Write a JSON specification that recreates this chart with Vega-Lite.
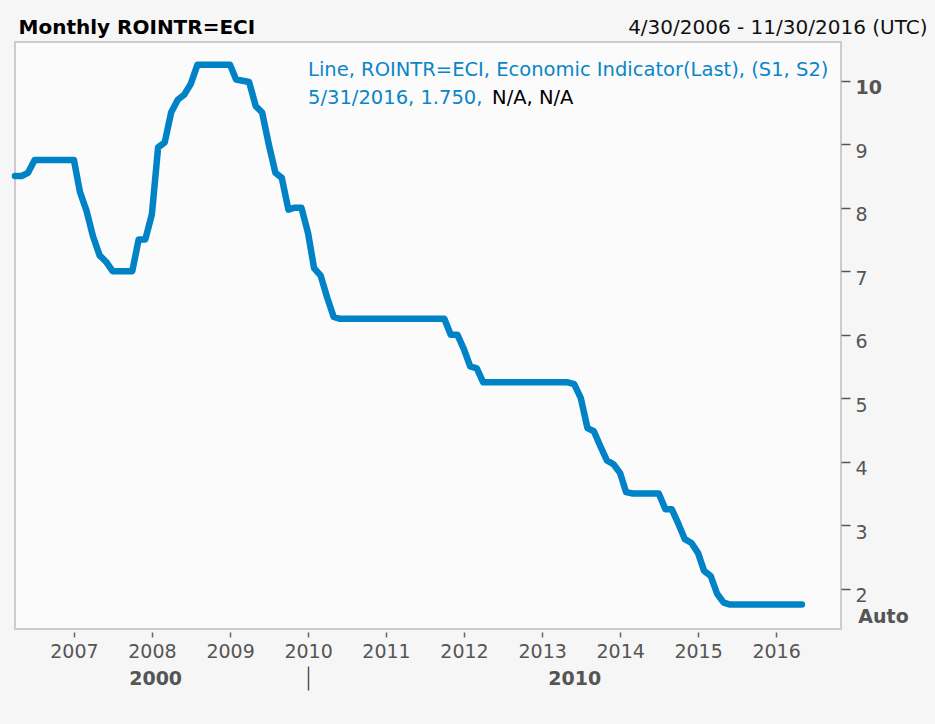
{
  "$schema": "https://vega.github.io/schema/vega-lite/v6.json",
  "width": 826,
  "height": 587,
  "autosize": {"type": "none"},
  "padding": {"left": 15, "top": 42, "right": 94, "bottom": 95},
  "background": "#f6f6f6",
  "config": {
    "font": "DejaVu Sans",
    "view": {"fill": "#fbfbfb", "stroke": "#cccccc", "strokeWidth": 2}
  },
  "datasets": {
    "series": [
      {"date": "2006-04-30", "rate": 8.50}, {"date": "2006-05-31", "rate": 8.50}, {"date": "2006-06-30", "rate": 8.55},
      {"date": "2006-07-31", "rate": 8.75}, {"date": "2006-08-31", "rate": 8.75}, {"date": "2006-09-30", "rate": 8.75},
      {"date": "2006-10-31", "rate": 8.75}, {"date": "2006-11-30", "rate": 8.75}, {"date": "2006-12-31", "rate": 8.75},
      {"date": "2007-01-31", "rate": 8.75}, {"date": "2007-02-28", "rate": 8.25}, {"date": "2007-03-31", "rate": 7.95},
      {"date": "2007-04-30", "rate": 7.55}, {"date": "2007-05-31", "rate": 7.25}, {"date": "2007-06-30", "rate": 7.15},
      {"date": "2007-07-31", "rate": 7.00}, {"date": "2007-08-31", "rate": 7.00}, {"date": "2007-09-30", "rate": 7.00},
      {"date": "2007-10-31", "rate": 7.00}, {"date": "2007-11-30", "rate": 7.50}, {"date": "2007-12-31", "rate": 7.50},
      {"date": "2008-01-31", "rate": 7.90}, {"date": "2008-02-29", "rate": 8.95}, {"date": "2008-03-31", "rate": 9.03},
      {"date": "2008-04-30", "rate": 9.50}, {"date": "2008-05-31", "rate": 9.70}, {"date": "2008-06-30", "rate": 9.78},
      {"date": "2008-07-31", "rate": 9.95}, {"date": "2008-08-31", "rate": 10.25}, {"date": "2008-09-30", "rate": 10.25},
      {"date": "2008-10-31", "rate": 10.25}, {"date": "2008-11-30", "rate": 10.25}, {"date": "2008-12-31", "rate": 10.25},
      {"date": "2009-01-31", "rate": 10.25}, {"date": "2009-02-28", "rate": 10.02}, {"date": "2009-03-31", "rate": 10.00},
      {"date": "2009-04-30", "rate": 9.98}, {"date": "2009-05-31", "rate": 9.60}, {"date": "2009-06-30", "rate": 9.50},
      {"date": "2009-07-31", "rate": 9.00}, {"date": "2009-08-31", "rate": 8.55}, {"date": "2009-09-30", "rate": 8.47},
      {"date": "2009-10-31", "rate": 7.97}, {"date": "2009-11-30", "rate": 8.00}, {"date": "2009-12-31", "rate": 8.00},
      {"date": "2010-01-31", "rate": 7.60}, {"date": "2010-02-28", "rate": 7.05}, {"date": "2010-03-31", "rate": 6.93},
      {"date": "2010-04-30", "rate": 6.59}, {"date": "2010-05-31", "rate": 6.28}, {"date": "2010-06-30", "rate": 6.25},
      {"date": "2010-07-31", "rate": 6.25}, {"date": "2010-08-31", "rate": 6.25}, {"date": "2010-09-30", "rate": 6.25},
      {"date": "2010-10-31", "rate": 6.25}, {"date": "2010-11-30", "rate": 6.25}, {"date": "2010-12-31", "rate": 6.25},
      {"date": "2011-01-31", "rate": 6.25}, {"date": "2011-02-28", "rate": 6.25}, {"date": "2011-03-31", "rate": 6.25},
      {"date": "2011-04-30", "rate": 6.25}, {"date": "2011-05-31", "rate": 6.25}, {"date": "2011-06-30", "rate": 6.25},
      {"date": "2011-07-31", "rate": 6.25}, {"date": "2011-08-31", "rate": 6.25}, {"date": "2011-09-30", "rate": 6.25},
      {"date": "2011-10-31", "rate": 6.25}, {"date": "2011-11-30", "rate": 6.00}, {"date": "2011-12-31", "rate": 6.00},
      {"date": "2012-01-31", "rate": 5.77}, {"date": "2012-02-29", "rate": 5.50}, {"date": "2012-03-31", "rate": 5.47},
      {"date": "2012-04-30", "rate": 5.25}, {"date": "2012-05-31", "rate": 5.25}, {"date": "2012-06-30", "rate": 5.25},
      {"date": "2012-07-31", "rate": 5.25}, {"date": "2012-08-31", "rate": 5.25}, {"date": "2012-09-30", "rate": 5.25},
      {"date": "2012-10-31", "rate": 5.25}, {"date": "2012-11-30", "rate": 5.25}, {"date": "2012-12-31", "rate": 5.25},
      {"date": "2013-01-31", "rate": 5.25}, {"date": "2013-02-28", "rate": 5.25}, {"date": "2013-03-31", "rate": 5.25},
      {"date": "2013-04-30", "rate": 5.25}, {"date": "2013-05-31", "rate": 5.25}, {"date": "2013-06-30", "rate": 5.22},
      {"date": "2013-07-31", "rate": 5.00}, {"date": "2013-08-31", "rate": 4.53}, {"date": "2013-09-30", "rate": 4.48},
      {"date": "2013-10-31", "rate": 4.24}, {"date": "2013-11-30", "rate": 4.02}, {"date": "2013-12-31", "rate": 3.96},
      {"date": "2014-01-31", "rate": 3.82}, {"date": "2014-02-28", "rate": 3.52}, {"date": "2014-03-31", "rate": 3.50},
      {"date": "2014-04-30", "rate": 3.50}, {"date": "2014-05-31", "rate": 3.50}, {"date": "2014-06-30", "rate": 3.50},
      {"date": "2014-07-31", "rate": 3.50}, {"date": "2014-08-31", "rate": 3.25}, {"date": "2014-09-30", "rate": 3.25},
      {"date": "2014-10-31", "rate": 3.02}, {"date": "2014-11-30", "rate": 2.78}, {"date": "2014-12-31", "rate": 2.72},
      {"date": "2015-01-31", "rate": 2.56}, {"date": "2015-02-28", "rate": 2.28}, {"date": "2015-03-31", "rate": 2.20},
      {"date": "2015-04-30", "rate": 1.92}, {"date": "2015-05-31", "rate": 1.78}, {"date": "2015-06-30", "rate": 1.75},
      {"date": "2015-07-31", "rate": 1.75}, {"date": "2015-08-31", "rate": 1.75}, {"date": "2015-09-30", "rate": 1.75},
      {"date": "2015-10-31", "rate": 1.75}, {"date": "2015-11-30", "rate": 1.75}, {"date": "2015-12-31", "rate": 1.75},
      {"date": "2016-01-31", "rate": 1.75}, {"date": "2016-02-29", "rate": 1.75}, {"date": "2016-03-31", "rate": 1.75},
      {"date": "2016-04-30", "rate": 1.75}, {"date": "2016-05-31", "rate": 1.75}
    ],
    "legendText": [
      {"part": "head", "label": "Line, ROINTR=ECI, Economic Indicator(Last), (S1, S2)"},
      {"part": "last", "label": "5/31/2016, 1.750,"},
      {"part": "na", "label": "N/A, N/A"}
    ],
    "decadeBreak": [{"date": "2010-01-31"}]
  },
  "resolve": {"axis": {"x": "independent", "y": "independent"}},
  "layer": [
    {
      "data": {"name": "series"},
      "mark": {"type": "line", "color": "#0082c6", "strokeWidth": 6.5, "strokeCap": "round", "strokeJoin": "round"},
      "encoding": {
        "x": {
          "field": "date", "type": "temporal",
          "scale": {"type": "utc", "domain": [{"year": 2006, "month": 4, "date": 30, "utc": true}, {"year": 2016, "month": 11, "date": 30, "utc": true}]},
          "axis": {
            "orient": "bottom", "title": null, "domain": false, "grid": false,
            "offset": 3, "tickSize": 5, "tickColor": "#666", "tickWidth": 1.5,
            "labelFontSize": 19, "labelColor": "#555", "labelPadding": 5, "labelFlush": false, "labelOverlap": false,
            "labelExpr": "utcFormat(datum.value, '%Y')",
            "values": [
              {"year": 2007, "month": 1, "date": 31, "utc": true}, {"year": 2008, "month": 1, "date": 31, "utc": true},
              {"year": 2009, "month": 1, "date": 31, "utc": true}, {"year": 2010, "month": 1, "date": 31, "utc": true},
              {"year": 2011, "month": 1, "date": 31, "utc": true}, {"year": 2012, "month": 1, "date": 31, "utc": true},
              {"year": 2013, "month": 1, "date": 31, "utc": true}, {"year": 2014, "month": 1, "date": 31, "utc": true},
              {"year": 2015, "month": 1, "date": 31, "utc": true}, {"year": 2016, "month": 1, "date": 31, "utc": true}
            ]
          }
        },
        "y": {
          "field": "rate", "type": "quantitative",
          "scale": {"domain": [1.365, 10.61], "nice": false, "zero": false},
          "axis": {
            "orient": "right", "domain": false, "grid": false,
            "values": [2, 3, 4, 5, 6, 7, 8, 9, 10],
            "tickSize": 9, "tickColor": "#555", "tickWidth": 1.5,
            "labelFontSize": 19, "labelColor": "#555", "labelPadding": 5, "labelBaseline": "middle", "labelOffset": 7,
            "labelFlush": false, "labelOverlap": false,
            "labelFontWeight": {"condition": {"test": "datum.value == 10", "value": "bold"}, "value": "normal"},
            "title": "Monthly ROINTR=ECI", "titleAngle": 0, "titleX": -823, "titleY": -9,
            "titleAlign": "left", "titleBaseline": "alphabetic", "titleFontSize": 20, "titleFontWeight": "bold", "titleColor": "#000000"
          }
        }
      }
    },
    {
      "data": {"name": "legendText"},
      "transform": [{"filter": "datum.part == 'head'"}],
      "mark": {"type": "text", "align": "left", "baseline": "alphabetic", "fontSize": 19.5, "color": "#0a86c8"},
      "encoding": {
        "x": {"datum": {"year": 2010, "month": 1, "date": 31, "utc": true}, "type": "temporal", "axis": null,
              "scale": {"type": "utc", "domain": [{"year": 2006, "month": 4, "date": 30, "utc": true}, {"year": 2016, "month": 11, "date": 30, "utc": true}]}},
        "y": {"datum": 10.074, "type": "quantitative", "axis": null},
        "text": {"field": "label"}
      }
    },
    {
      "data": {"name": "legendText"},
      "transform": [{"filter": "datum.part == 'last'"}],
      "mark": {"type": "text", "align": "left", "baseline": "alphabetic", "fontSize": 19.5, "color": "#0a86c8"},
      "encoding": {
        "x": {"datum": {"year": 2010, "month": 1, "date": 31, "utc": true}, "type": "temporal", "axis": null,
              "scale": {"type": "utc", "domain": [{"year": 2006, "month": 4, "date": 30, "utc": true}, {"year": 2016, "month": 11, "date": 30, "utc": true}]}},
        "y": {"datum": 9.633, "type": "quantitative", "axis": null},
        "text": {"field": "label"}
      }
    },
    {
      "data": {"name": "legendText"},
      "transform": [{"filter": "datum.part == 'na'"}],
      "mark": {"type": "text", "align": "left", "baseline": "alphabetic", "fontSize": 19.5, "color": "#000000", "dx": 184},
      "encoding": {
        "x": {"datum": {"year": 2010, "month": 1, "date": 31, "utc": true}, "type": "temporal", "axis": null,
              "scale": {"type": "utc", "domain": [{"year": 2006, "month": 4, "date": 30, "utc": true}, {"year": 2016, "month": 11, "date": 30, "utc": true}]}},
        "y": {"datum": 9.633, "type": "quantitative", "axis": null},
        "text": {"field": "label"}
      }
    },
    {
      "data": {"name": "decadeBreak"},
      "mark": {"type": "rule", "opacity": 0},
      "encoding": {
        "x": {
          "field": "date", "type": "temporal",
          "scale": {"type": "utc", "domain": [{"year": 2006, "month": 4, "date": 30, "utc": true}, {"year": 2016, "month": 11, "date": 30, "utc": true}]},
          "axis": {
            "orient": "bottom", "domain": false, "grid": false, "offset": 37,
            "values": [{"year": 2008, "month": 2, "date": 15, "utc": true}, {"year": 2010, "month": 1, "date": 31, "utc": true}, {"year": 2013, "month": 6, "date": 30, "utc": true}],
            "tickSize": 24, "tickColor": "#555", "tickWidth": 1.5,
            "tickOpacity": {"condition": {"test": "utcyear(datum.value) == 2010", "value": 1}, "value": 0},
            "labelExpr": "utcyear(datum.value) == 2008 ? '2000' : (utcyear(datum.value) == 2013 ? '2010' : '')",
            "labelFontSize": 19, "labelFontWeight": "bold", "labelColor": "#555", "labelPadding": -21,
            "labelFlush": false, "labelOverlap": false,
            "title": "Auto", "titleX": 868, "titleY": -44, "titleAlign": "center", "titleBaseline": "alphabetic",
            "titleFontSize": 19, "titleFontWeight": "bold", "titleColor": "#555"
          }
        }
      }
    },
    {
      "data": {"name": "decadeBreak"},
      "mark": {"type": "rule", "opacity": 0},
      "encoding": {
        "x": {
          "field": "date", "type": "temporal",
          "scale": {"type": "utc", "domain": [{"year": 2006, "month": 4, "date": 30, "utc": true}, {"year": 2016, "month": 11, "date": 30, "utc": true}]},
          "axis": {
            "orient": "top", "domain": false, "grid": false, "ticks": false, "labels": false,
            "title": "4/30/2006 - 11/30/2016 (UTC)", "titleX": 912, "titleY": -9, "titleAlign": "right",
            "titleBaseline": "alphabetic", "titleFontSize": 20, "titleFontWeight": "normal", "titleColor": "#111"
          }
        }
      }
    }
  ]
}
